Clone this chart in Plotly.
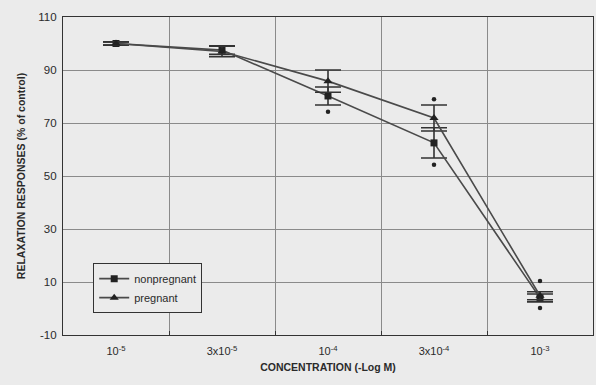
import plotly.graph_objects as go

# Concentration steps (categorical x axis)
concentrations = ["10<sup>-5</sup>", "3x10<sup>-5</sup>", "10<sup>-4</sup>",
                  "3x10<sup>-4</sup>", "10<sup>-3</sup>"]

# Relaxation responses (% of control), mean and error
nonpregnant_mean = [100.0, 97.5, 80.2, 62.5, 4.0]
nonpregnant_err = [0.6, 1.6, 3.4, 5.7, 1.5]
pregnant_mean = [100.0, 97.0, 85.8, 71.9, 4.8]
pregnant_err = [0.6, 2.0, 4.2, 4.9, 1.5]

# Significance marks drawn as small dots
mark_index = [2, 3, 3, 4, 4]
mark_value = [74.2, 79.0, 54.2, 10.4, 0.2]

y_ticks = [-10, 10, 30, 50, 70, 90, 110]
y_tick_text = ["-10", "10", "30", "50", "70", "90", "110"]

ink = "#2a2a2a"
paper = "#ebebeb"
font_family = "Liberation Sans, Arial, sans-serif"

x_pos = list(range(len(concentrations)))

fig = go.Figure()

fig.add_trace(go.Scatter(
    x=x_pos, y=nonpregnant_mean, name="nonpregnant",
    mode="lines+markers",
    line=dict(color="#4a4a4a", width=1.6),
    marker=dict(symbol="square", size=7, color="#222"),
    error_y=dict(type="data", array=nonpregnant_err, visible=True,
                 color="#333", thickness=1.6, width=13),
))

fig.add_trace(go.Scatter(
    x=x_pos, y=pregnant_mean, name="pregnant",
    mode="lines+markers",
    line=dict(color="#4a4a4a", width=1.6),
    marker=dict(symbol="triangle-up", size=8, color="#222"),
    error_y=dict(type="data", array=pregnant_err, visible=True,
                 color="#333", thickness=1.6, width=13),
))

fig.add_trace(go.Scatter(
    x=mark_index, y=mark_value, mode="markers", showlegend=False,
    marker=dict(symbol="circle", size=4.5, color="#222"),
    hoverinfo="skip",
))

fig.update_layout(
    width=596, height=385,
    margin=dict(l=63, r=3, t=17, b=50),
    paper_bgcolor=paper, plot_bgcolor=paper,
    font=dict(family=font_family, color=ink, size=11),
    legend=dict(
        x=0.057, y=0.226, xanchor="left", yanchor="top",
        bgcolor=paper, bordercolor="#333", borderwidth=1,
        font=dict(size=11, color=ink), itemwidth=30,
        tracegroupgap=0,
    ),
)

fig.update_xaxes(
    range=[-0.5, len(concentrations) - 0.5],
    tickvals=x_pos, ticktext=concentrations,
    ticks="", showgrid=False, zeroline=False,
    showline=True, linecolor="#333", linewidth=1.2, mirror=True,
    tickfont=dict(size=11, color=ink), ticklabelstandoff=6,
    minor=dict(tickvals=[i + 0.5 for i in x_pos[:-1]], showgrid=True,
               gridcolor="#8a8a8a", gridwidth=1, ticks="inside",
               ticklen=4, tickcolor="#333"),
    title=dict(text="<b>CONCENTRATION (-Log M)</b>",
               font=dict(size=10.5, color=ink), standoff=7),
)

fig.update_yaxes(
    range=[-10, 110], tickvals=y_ticks, ticktext=y_tick_text,
    showgrid=True, gridcolor="#8a8a8a", gridwidth=1, zeroline=False,
    showline=True, linecolor="#333", linewidth=1.2, mirror=True,
    ticks="", tickfont=dict(size=11.5, color=ink), ticklabelstandoff=3,
    title=dict(text="<b>RELAXATION RESPONSES (% of control)</b>",
               font=dict(size=10.5, color=ink), standoff=10),
)

fig.write_html("out.html")
